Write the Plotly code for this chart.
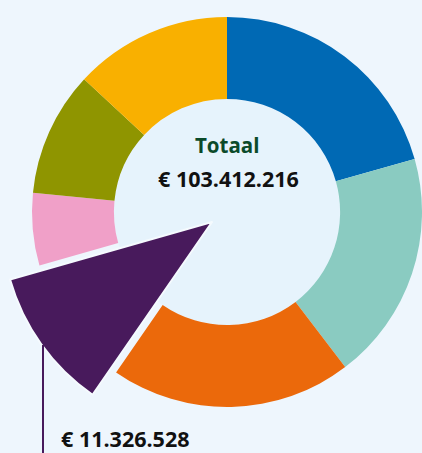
import plotly.graph_objects as go

labels = ["Blauw", "Turquoise", "Oranje", "Paars", "Roze", "Olijf", "Geel"]
values = [21320000, 19670000, 20675000, 11326528, 6205000, 10686000, 13529688]
colors = ["#0069B4", "#8ACBC1", "#EB690B", "#481A5C", "#F0A0C8", "#8F9500", "#F9B000"]
highlight = "Paars"
total_text = "€ 103.412.216"
highlight_text = "€ 11.326.528"

W, H = 422, 453
bg = "#EEF6FD"
hole_bg = "#E6F3FC"

# donut geometry (px)
cx, cy, r = 227, 212, 195
hole = 0.58

donut_colors = [c if l != highlight else "rgba(0,0,0,0)" for l, c in zip(labels, colors)]
wedge_colors = [c if l == highlight else "rgba(0,0,0,0)" for l, c in zip(labels, colors)]
wedge_lines = ["#F5FAFE" if l == highlight else "rgba(0,0,0,0)" for l in labels]

fig = go.Figure()
fig.add_trace(go.Pie(
    labels=labels, values=values, sort=False, direction="clockwise", rotation=0,
    hole=hole, marker=dict(colors=donut_colors, line=dict(width=0)),
    textinfo="none", hoverinfo="label+value",
    domain=dict(x=[(cx - r) / W, 1], y=[1 - 2 * cy / H, 1]),
))
# pulled-out wedge
wcx, wcy, wr = 212, 222, 210
fig.add_trace(go.Pie(
    labels=labels, values=values, sort=False, direction="clockwise", rotation=0,
    marker=dict(colors=wedge_colors, line=dict(width=2, color=wedge_lines)),
    textinfo="none", hoverinfo="label+value",
    domain=dict(x=[(wcx - wr) / W, (wcx + wr) / W], y=[1 - (wcy + wr) / H, 1 - (wcy - wr) / H]),
))

ri = r * hole
fig.add_shape(type="circle", xref="paper", yref="paper", layer="below",
              x0=(cx - ri) / W, x1=(cx + ri) / W, y0=1 - (cy + ri) / H, y1=1 - (cy - ri) / H,
              fillcolor=hole_bg, line=dict(width=0))

font = "Open Sans"
fig.add_annotation(x=cx / W, y=1 - 145 / H, xref="paper", yref="paper", text="<b>Totaal</b>",
                   showarrow=False, font=dict(family=font, size=20.5, color="#0B4A2A"),
                   xanchor="center", yanchor="middle")
fig.add_annotation(x=(cx + 1) / W, y=1 - 178 / H, xref="paper", yref="paper", text="<b>" + total_text + "</b>",
                   showarrow=False, font=dict(family=font, size=21.5, color="#111111"),
                   xanchor="center", yanchor="middle")
fig.add_annotation(x=59 / W, y=1 - 438 / H, xref="paper", yref="paper", text="<b>" + highlight_text + "</b>",
                   showarrow=False, font=dict(family=font, size=21.5, color="#111111"),
                   xanchor="left", yanchor="middle")
fig.add_shape(type="line", xref="paper", yref="paper", layer="above",
              x0=43 / W, x1=43 / W, y0=0, y1=1 - 345 / H,
              line=dict(color="#481A5C", width=2))

fig.update_layout(width=W, height=H, margin=dict(l=0, r=0, t=0, b=0),
                  paper_bgcolor=bg, plot_bgcolor=bg, showlegend=False)
fig.write_html("out.html", config={"displayModeBar": False},
               post_script="document.body.style.margin='0';document.body.style.overflow='hidden';")
